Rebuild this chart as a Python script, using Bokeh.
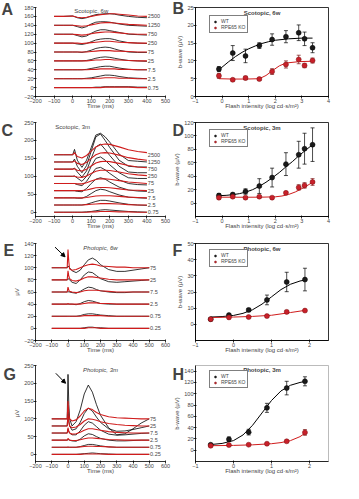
from bokeh.plotting import figure
from bokeh.layouts import gridplot
from bokeh.models import (Label, Legend, LegendItem, Whisker, TeeHead, ColumnDataSource,
                          FixedTicker, Arrow, NormalHead, Title)
from bokeh.embed import file_html
from bokeh.resources import INLINE

FONT = "Liberation Sans"
RED = "#d01c1c"
DARKRED = "#7a1010"

# ---------------- Panel A : Scotopic, 6w traces ----------------
a_time = [-100, -50, 0, 25, 50, 75, 100, 125, 150, 175, 200, 225, 250, 300, 350, 400]
a_labels = ["0.75", "2.5", "7.5", "25", "75", "250", "750", "1250", "2500"]
a_offsets = [0, 20, 40, 60, 80, 100, 120, 140, 160]
a_wt = [
    [0, 0, 0, 0, 0, 0, 0, 1, 1, 2, 2, 2, 2, 2, 1, 1],
    [0, 0, 0, 0, 0, 1, 2, 4, 6, 8, 8, 7, 5, 2, 1, 0],
    [0, 0, 0, 0, 0, 1, 3, 5, 7, 8, 8, 6, 4, 1, 0, 0],
    [0, 0, 0, 0, 0, 1, 3, 6, 8, 9, 8, 6, 4, 1, 0, -1],
    [0, 0, 0, 0, -1, 1, 4, 8, 10, 11, 10, 7, 4, 0, -1, -1],
    [0, 0, 0, -2, -3, -1, 3, 7, 9, 10, 10, 8, 5, 1, 0, -1],
    [0, 0, 0, -3, -6, -4, 2, 7, 10, 10, 8, 6, 4, 0, -1, -2],
    [0, 0, 0, -3, -6, -3, 3, 7, 8, 8, 7, 5, 3, 0, -1, -2],
    [0, 0, 1, -3, -5, -3, 1, 4, 5, 6, 6, 5, 3, 0, -2, -3],
]
a_ko = [
    [0, 0, 0, 0, 0, 0, 0, 0, 0, 1, 1, 1, 1, 1, 0, 0],
    [0, 0, 0, 0, 0, 0, 0, 1, 1, 2, 2, 2, 1, 1, 0, 0],
    [0, 0, 0, 0, 0, 0, 1, 1, 2, 2, 2, 2, 1, 1, 0, 0],
    [0, 0, 0, 0, 0, 0, 1, 2, 2, 3, 3, 2, 2, 1, 0, 0],
    [0, 0, 0, 0, 0, 0, 1, 2, 3, 3, 3, 2, 2, 1, 0, 0],
    [0, 0, 0, 0, -1, 0, 1, 2, 3, 4, 4, 3, 2, 1, 0, 0],
    [0, 0, 0, -1, -2, -1, 1, 3, 4, 5, 5, 4, 3, 1, 0, 0],
    [0, 0, 0, -1, -2, -1, 1, 3, 5, 6, 6, 5, 4, 2, 1, 0],
    [0, 0, 1, -2, -3, -2, 0, 2, 4, 5, 6, 6, 5, 3, 1, 0],
]

# ---------------- Panel C : Scotopic, 3m traces ----------------
c_time = [-100, -50, 0, 10, 25, 50, 75, 100, 125, 150, 175, 200, 250, 300, 350, 400]
c_labels = ["0.75", "2.5", "7.5", "25", "75", "250", "750", "1250", "2500"]
c_offsets = [0, 20, 40, 60, 80, 100, 120, 140, 160]
c_wt = [
    [0, 0, 0, 0, 0, 0, 1, 2, 4, 6, 7, 6, 4, 2, 1, 0],
    [0, 0, 0, 0, 0, 0, 2, 6, 10, 13, 13, 11, 6, 2, 0, -1],
    [0, 0, 0, 0, -1, -1, 4, 12, 20, 24, 22, 17, 8, 2, 0, -1],
    [0, 0, 0, 0, -2, -3, 6, 20, 32, 36, 32, 24, 10, 2, -1, -2],
    [0, 0, 0, 0, -3, -6, 6, 25, 42, 45, 38, 28, 10, 0, -3, -4],
    [0, 0, 0, 1, -5, -14, 0, 28, 50, 54, 45, 32, 10, -4, -6, -6],
    [0, 0, 0, 3, -8, -22, -5, 30, 62, 70, 55, 38, 8, -8, -10, -10],
    [0, 0, 0, 8, -12, -30, -10, 30, 70, 78, 60, 40, 5, -12, -14, -14],
    [0, 0, 0, 15, -15, -35, -15, 20, 55, 60, 50, 35, 2, -16, -18, -20],
]
c_ko = [
    [0, 0, 0, 0, 0, 0, 0, 1, 1, 2, 2, 2, 1, 1, 0, 0],
    [0, 0, 0, 0, 0, 0, 1, 2, 3, 4, 4, 4, 3, 1, 0, 0],
    [0, 0, 0, 0, 0, 0, 1, 3, 5, 6, 6, 6, 4, 2, 1, 0],
    [0, 0, 0, 0, 0, 0, 2, 5, 8, 9, 9, 8, 5, 2, 1, 0],
    [0, 0, 0, 0, -1, -1, 2, 7, 11, 13, 13, 12, 8, 4, 2, 0],
    [0, 0, 0, 0, -2, -3, 1, 8, 14, 17, 17, 16, 12, 7, 4, 2],
    [0, 0, 0, 1, -3, -5, 0, 9, 17, 21, 22, 21, 16, 10, 6, 4],
    [0, 0, 0, 3, -4, -7, -1, 10, 20, 25, 26, 25, 19, 12, 8, 5],
    [0, 0, 0, 6, -5, -9, -2, 10, 22, 28, 30, 29, 22, 14, 9, 6],
]

# ---------------- Panel E : Photopic, 6w traces ----------------
e_time = [-100, -50, -5, 0, 5, 10, 25, 50, 75, 100, 125, 150, 175, 200, 250, 300, 350, 400, 450, 500]
e_labels = ["0.25", "0.75", "2.5", "7.5", "25", "75"]
e_offsets = [0, 20, 40, 60, 80, 100]
e_wt = [
    [0, 0, 0, 0, 0, 0, 0, 0, 0, 1, 2, 2, 1, 1, 0, 0, 0, 0, 0, 0],
    [0, 0, 0, 0, 0, 0, 0, 0, 1, 3, 4, 4, 3, 2, 1, 0, 0, 0, 0, 0],
    [0, 0, 0, 0, 0, 0, 0, -1, 1, 4, 6, 5, 3, 1, 0, 0, 0, 0, 0, 0],
    [0, 0, 0, 1, 0, 0, -1, -2, 1, 5, 8, 7, 4, 2, 0, -1, -1, 0, 0, 0],
    [0, 0, 0, 2, 1, 0, -4, -6, 0, 8, 13, 12, 7, 2, -3, -4, -3, -2, -1, 0],
    [0, 0, 0, 3, 1, 0, -5, -8, -4, 5, 13, 16, 12, 5, -3, -6, -6, -4, -2, 0],
]
e_ko = [
    [0, 0, 0, 0, 0, 0, 0, 0, 0, 0, 1, 1, 1, 0, 0, 0, 0, 0, 0, 0],
    [0, 0, 0, 0, 0, 0, 0, 0, 0, 1, 1, 1, 1, 1, 0, 0, 0, 0, 0, 0],
    [0, 0, 0, 1, 0, 0, 0, 0, 0, 1, 2, 2, 2, 1, 1, 0, 0, 0, 0, 0],
    [0, 0, 0, 8, 3, 1, 0, -1, 0, 2, 3, 3, 3, 2, 1, 0, 0, 0, 0, 0],
    [0, 0, 0, 15, 6, 2, -1, -2, 0, 3, 5, 5, 4, 3, 1, 0, 0, 0, 0, 0],
    [0, 0, 0, 30, 10, -2, -4, -3, 0, 3, 5, 6, 5, 3, 2, 1, 1, 0, 0, 0],
]

# ---------------- Panel G : Photopic, 3m traces ----------------
g_time = [-100, -50, -5, 0, 5, 10, 25, 50, 75, 100, 125, 150, 175, 200, 250, 300, 350, 400, 450, 500]
g_labels = ["0.25", "0.75", "2.5", "7.5", "25", "75"]
g_offsets = [0, 20, 40, 60, 80, 100]
g_wt = [
    [0, 0, 0, 0, 0, 0, 0, 0, 1, 2, 3, 4, 3, 2, 1, 0, 0, 0, 0, 0],
    [0, 0, 0, 0, 0, 0, 0, 0, 2, 5, 8, 8, 6, 4, 1, 0, 0, 0, 0, 0],
    [0, 0, 0, 2, 1, 0, -2, -3, 3, 12, 18, 16, 10, 5, 0, -2, -2, -1, 0, 0],
    [0, 0, 0, 10, 4, 0, -5, -5, 6, 22, 32, 28, 18, 8, -3, -6, -5, -3, -1, 0],
    [0, 0, 0, 40, 15, 0, -12, -8, 10, 35, 50, 42, 25, 10, -8, -15, -14, -10, -5, 0],
    [0, 0, 0, 125, 40, 0, -20, -8, 25, 70, 95, 75, 40, 10, -25, -45, -42, -28, -12, 0],
]
g_ko = [
    [0, 0, 0, 0, 0, 0, 0, 0, 0, 1, 1, 1, 1, 1, 0, 0, 0, 0, 0, 0],
    [0, 0, 0, 1, 0, 0, 0, 0, 1, 2, 3, 3, 2, 2, 1, 0, 0, 0, 0, 0],
    [0, 0, 0, 5, 2, 0, -1, -1, 1, 4, 6, 6, 5, 4, 2, 1, 0, 0, 0, 0],
    [0, 0, 0, 15, 5, 0, -3, -2, 2, 8, 12, 12, 10, 8, 4, 2, 1, 0, 0, 0],
    [0, 0, 0, 30, 10, 0, -5, -3, 4, 14, 20, 19, 16, 12, 7, 4, 2, 1, 0, 0],
    [0, 0, 0, 50, 15, 0, -6, -3, 8, 22, 30, 26, 18, 12, 6, 3, 2, 1, 0, 0],
]

# ---------------- Intensity-response panels ----------------
scot_x = [-0.12, 0.40, 0.88, 1.40, 1.88, 2.40, 2.88, 3.10, 3.40]
phot_x = [-0.60, -0.12, 0.40, 0.88, 1.40, 1.88]

b_wt = [7.7, 12.2, 11.4, 14.3, 16.0, 16.8, 17.9, 16.2, 13.7]
b_wt_err = [0.7, 2.1, 1.9, 0.8, 1.6, 1.7, 2.2, 1.9, 1.4]
b_ko = [5.8, 4.7, 5.2, 4.9, 7.0, 9.0, 10.4, 8.7, 10.1]
b_ko_err = [0.7, 0.3, 0.5, 0.3, 0.8, 1.0, 1.2, 0.6, 0.7]
b_fit_wt_x = [-0.12, 0.25, 0.5, 0.75, 1.0, 1.25, 1.5, 1.75, 2.0, 2.5, 3.0, 3.4]
b_fit_wt_y = [7.5, 9.8, 11.2, 12.4, 13.4, 14.2, 14.9, 15.4, 15.8, 16.2, 16.4, 16.4]
b_fit_ko_x = [-0.12, 0.4, 0.9, 1.4, 1.65, 1.9, 2.15, 2.4, 2.9, 3.4]
b_fit_ko_y = [5.0, 4.9, 4.9, 5.0, 5.9, 7.3, 8.6, 9.4, 9.8, 9.9]

d_wt = [11.3, 12.7, 17.2, 25.3, 38.0, 58.0, 72.0, 81.0, 87.0]
d_wt_err = [3, 2, 4, 11, 14, 17, 20, 23, 25]
d_ko = [8.1, 9.6, 8.1, 9.6, 8.1, 15.2, 23.3, 26.3, 31.4]
d_ko_err = [2, 1, 1, 1, 1, 2, 4, 4, 5]
d_fit_wt_x = [-0.12, 0.15, 0.4, 0.65, 0.9, 1.15, 1.4, 1.65, 1.9, 2.15, 2.4, 2.65, 2.9, 3.15, 3.4]
d_fit_wt_y = [11, 11.5, 12.5, 14, 16.5, 20, 25, 31, 38, 45.5, 54, 62, 71, 79, 87]
d_fit_ko_x = [-0.12, 0.5, 1.0, 1.5, 2.0, 2.25, 2.5, 2.75, 3.0, 3.2, 3.4]
d_fit_ko_y = [8.8, 8.7, 8.7, 8.8, 9.3, 10.5, 12.8, 16.5, 21.5, 26, 31]

f_wt = [3.2, 5.7, 8.9, 15.1, 26.2, 27.7]
f_wt_err = [0.5, 0.5, 1.0, 3.0, 6.0, 7.0]
f_ko = [3.2, 4.3, 4.5, 5.1, 7.7, 8.5]
f_ko_err = [0.3, 0.3, 0.3, 0.5, 1.0, 0.5]
f_fit_wt_x = [-0.6, -0.3, 0.0, 0.25, 0.5, 0.75, 1.0, 1.25, 1.5, 1.75, 1.9]
f_fit_wt_y = [4.5, 4.8, 5.5, 6.8, 9.0, 12.5, 17.0, 21.5, 24.8, 26.8, 27.5]
f_fit_ko_x = [-0.6, 0.0, 0.5, 1.0, 1.5, 1.9]
f_fit_ko_y = [4.2, 4.5, 4.9, 5.6, 7.3, 8.7]

h_wt = [9.7, 19.4, 32.0, 75.0, 110.0, 122.0]
h_wt_err = [2, 4, 5, 8, 12, 8]
h_ko = [7.9, 9.1, 9.7, 11.5, 15.8, 31.5]
h_ko_err = [1, 1, 1, 1, 2, 5]
h_fit_wt_x = [-0.6, -0.3, 0.0, 0.25, 0.5, 0.75, 1.0, 1.25, 1.5, 1.75, 1.9]
h_fit_wt_y = [10, 12, 17, 27, 44, 66, 88, 105, 115, 120, 122]
h_fit_ko_x = [-0.6, 0.0, 0.5, 1.0, 1.25, 1.5, 1.75, 1.9]
h_fit_ko_y = [8, 8.5, 9.5, 11.5, 13.5, 17, 24, 31]

LEGEND_LABELS = ["WT", "RPE65 KO"]
X_LABEL_L = "Time (ms)"
X_LABEL_R = "Flash intensity (log cd\u00b7s/m\u00b2)"
Y_LABEL_R = "b-wave (\u00b5V)"
BOTTOM = 22


def base_fig(w, h, xr, yr, xticks, yticks, borders, letter, letter_drop, xlabel):
    left, right, top = borders
    p = figure(width=w, height=h, x_range=xr, y_range=yr, output_backend="svg",
               toolbar_location=None, min_border_left=left, min_border_right=right,
               min_border_top=top, min_border_bottom=BOTTOM)
    # panel letter drawn as the plot title, pulled over the top-left corner
    p.title.text = letter
    p.title.align = "left"
    p.title.vertical_align = "bottom"
    p.title.offset = -(left - 1)
    p.title.standoff = -2 * (letter_drop - top)
    p.title.text_font = FONT
    p.title.text_font_size = "16px"
    p.title.text_font_style = "bold"
    # x-axis caption as a compact title below the axis
    p.add_layout(Title(text=xlabel, align="center", vertical_align="top", standoff=-6,
                       text_font=FONT, text_font_size="6px", text_font_style="normal"),
                 "below")
    p.xaxis.ticker = FixedTicker(ticks=xticks)
    p.yaxis.ticker = FixedTicker(ticks=yticks)
    p.grid.visible = False
    p.outline_line_color = None
    for ax in p.axis:
        ax.major_label_text_font = FONT
        ax.major_label_text_font_size = "5.5px"
        ax.major_label_standoff = 0
        ax.major_tick_out = 2
        ax.major_tick_in = 1
        ax.minor_tick_out = 0
        ax.minor_tick_in = 0
        ax.axis_line_width = 0.8
        ax.major_tick_line_width = 0.8
        ax.axis_label_text_font = FONT
        ax.axis_label_text_font_size = "6px"
        ax.axis_label_text_font_style = "normal"
        ax.axis_label_standoff = 1
    return p


def trace_fig(w, h, xr, yr, xticks, yticks, borders, time, offsets, wt, ko, labels,
              label_x, title, title_x, title_y, letter, letter_drop, ylabel=None, italic=False):
    p = base_fig(w, h, xr, yr, xticks, yticks, borders, letter, letter_drop, X_LABEL_L)
    if ylabel:
        p.yaxis.axis_label = ylabel
    for off, trace in zip(offsets, wt):
        p.line(time, [off + v for v in trace], line_color="black", line_width=0.8)
    for off, trace in zip(offsets, ko):
        p.line(time, [off + v for v in trace], line_color=RED, line_width=1.1)
    for off, lab in zip(offsets, labels):
        p.add_layout(Label(x=label_x, y=off, text=lab, text_font=FONT,
                           text_font_size="5.5px", text_baseline="middle", text_align="left"))
    p.add_layout(Label(x=title_x, y=title_y, text=title, text_font=FONT,
                       text_font_size="6px", text_baseline="top", text_align="center",
                       text_font_style="italic" if italic else "normal"))
    return p


def curve_fig(w, h, xr, yr, xticks, yticks, borders, x, wt, wt_err, ko, ko_err,
              fwx, fwy, fkx, fky, title, title_x, title_y, letter, letter_drop, leg_top):
    p = base_fig(w, h, xr, yr, xticks, yticks, borders, letter, letter_drop, X_LABEL_R)
    p.outline_line_color = "black"
    p.outline_line_width = 0.8
    p.yaxis.axis_label = Y_LABEL_R
    p.line(fwx, fwy, line_color="black", line_width=1)
    p.line(fkx, fky, line_color=RED, line_width=1)
    for ys, es, col in ((wt, wt_err, "black"), (ko, ko_err, DARKRED)):
        src = ColumnDataSource(dict(x=x, up=[a + b for a, b in zip(ys, es)],
                                    lo=[a - b for a, b in zip(ys, es)]))
        p.add_layout(Whisker(source=src, base="x", upper="up", lower="lo",
                             line_color=col, line_width=0.7,
                             upper_head=TeeHead(size=4, line_color=col, line_width=0.7),
                             lower_head=TeeHead(size=4, line_color=col, line_width=0.7)))
    rw = p.scatter(x, wt, size=5, fill_color="#1a1a1a", line_color="black", line_width=0.5)
    rk = p.scatter(x, ko, size=5, fill_color="#c8202a", line_color=DARKRED, line_width=0.5)
    left, right, top = borders
    fh = h - top - BOTTOM
    leg = Legend(items=[LegendItem(label=LEGEND_LABELS[0], renderers=[rw]),
                        LegendItem(label=LEGEND_LABELS[1], renderers=[rk])],
                 location=(14, fh - leg_top - 13))
    leg.label_text_font = FONT
    leg.label_text_font_size = "5px"
    leg.label_height = 5
    leg.glyph_height = 5
    leg.glyph_width = 6
    leg.label_standoff = 3
    leg.padding = 2
    leg.spacing = 0
    leg.margin = 0
    leg.border_line_color = "black"
    leg.border_line_width = 0.6
    p.add_layout(leg)
    p.add_layout(Label(x=title_x, y=title_y, text=title, text_font=FONT,
                       text_font_size="6px", text_baseline="top", text_align="center",
                       text_font_style="bold"))
    return p


LW, RW = 171, 172
H1, H2, H3, H4 = 118, 120, 124, 121

tA = trace_fig(LW, H1, (-200, 500), (-20, 180), list(range(-200, 501, 100)),
               list(range(-20, 181, 20)), (35, 6, 6), a_time, a_offsets, a_wt, a_ko,
               a_labels, 405, "Scotopic, 6w", 100, 179, "A", 16)
tC = trace_fig(LW, H2, (-200, 500), (-12, 250), list(range(-200, 501, 100)),
               list(range(0, 251, 50)), (35, 6, 4), c_time, c_offsets, c_wt, c_ko,
               c_labels, 405, "Scotopic, 3m", 0, 247, "C", 20)
tE = trace_fig(LW, H3, (-200, 600), (-20, 140), list(range(-200, 601, 100)),
               list(range(-20, 141, 20)), (33, 6, 5), e_time, e_offsets, e_wt, e_ko,
               e_labels, 505, "Photopic, 6w", 200, 138, "E", 20, ylabel="\u00b5V", italic=True)
tG = trace_fig(LW, H4, (-200, 600), (-20, 250), list(range(-200, 601, 100)),
               list(range(0, 251, 50)), (33, 6, 3), g_time, g_offsets, g_wt, g_ko,
               g_labels, 505, "Photopic, 3m", 200, 246, "G", 20, ylabel="\u00b5V", italic=True)

# arrows pointing at the flash artefact
e_arrow = dict(x_start=-80, y_start=134, x_end=-18, y_end=118)
g_arrow = dict(x_start=-75, y_start=228, x_end=-15, y_end=200)
for p, a in ((tE, e_arrow), (tG, g_arrow)):
    p.add_layout(Arrow(end=NormalHead(size=4, fill_color="black", line_color="black"),
                       line_width=1, **a))

cB = curve_fig(RW, H1, (-1, 4), (0, 25), [-1, 0, 1, 2, 3, 4], list(range(0, 26, 5)),
               (24, 15, 7), scot_x, b_wt, b_wt_err, b_ko, b_ko_err,
               b_fit_wt_x, b_fit_wt_y, b_fit_ko_x, b_fit_ko_y, "Scotopic, 6w", 1.5, 24.3,
               "B", 16, 13)
cD = curve_fig(RW, H2, (-1, 4), (-20, 120), [-1, 0, 1, 2, 3, 4], list(range(0, 121, 20)),
               (24, 15, 4), scot_x, d_wt, d_wt_err, d_ko, d_ko_err,
               d_fit_wt_x, d_fit_wt_y, d_fit_ko_x, d_fit_ko_y, "Scotopic, 3m", 1.5, 117,
               "D", 20, 12)
cF = curve_fig(RW, H3, (-1, 2.5), (-10, 50), [-1, 0, 1, 2], list(range(0, 51, 10)),
               (24, 15, 5), phot_x, f_wt, f_wt_err, f_ko, f_ko_err,
               f_fit_wt_x, f_fit_wt_y, f_fit_ko_x, f_fit_ko_y, "Photopic, 6w", 0.75, 48.5,
               "F", 20, 11)
cH = curve_fig(RW, H4, (-1, 2.5), (-20, 150), [-1, 0, 1, 2], list(range(0, 141, 20)),
               (24, 15, 3), phot_x, h_wt, h_wt_err, h_ko, h_ko_err,
               h_fit_wt_x, h_fit_wt_y, h_fit_ko_x, h_fit_ko_y, "Photopic, 3m", 0.75, 147,
               "H", 20, 10)
cH.outline_line_color = "#aaaaaa"

grid = gridplot([[tA, cB], [tC, cD], [tE, cF], [tG, cH]], toolbar_location=None)
open("out.html", "w").write(file_html(grid, INLINE))
